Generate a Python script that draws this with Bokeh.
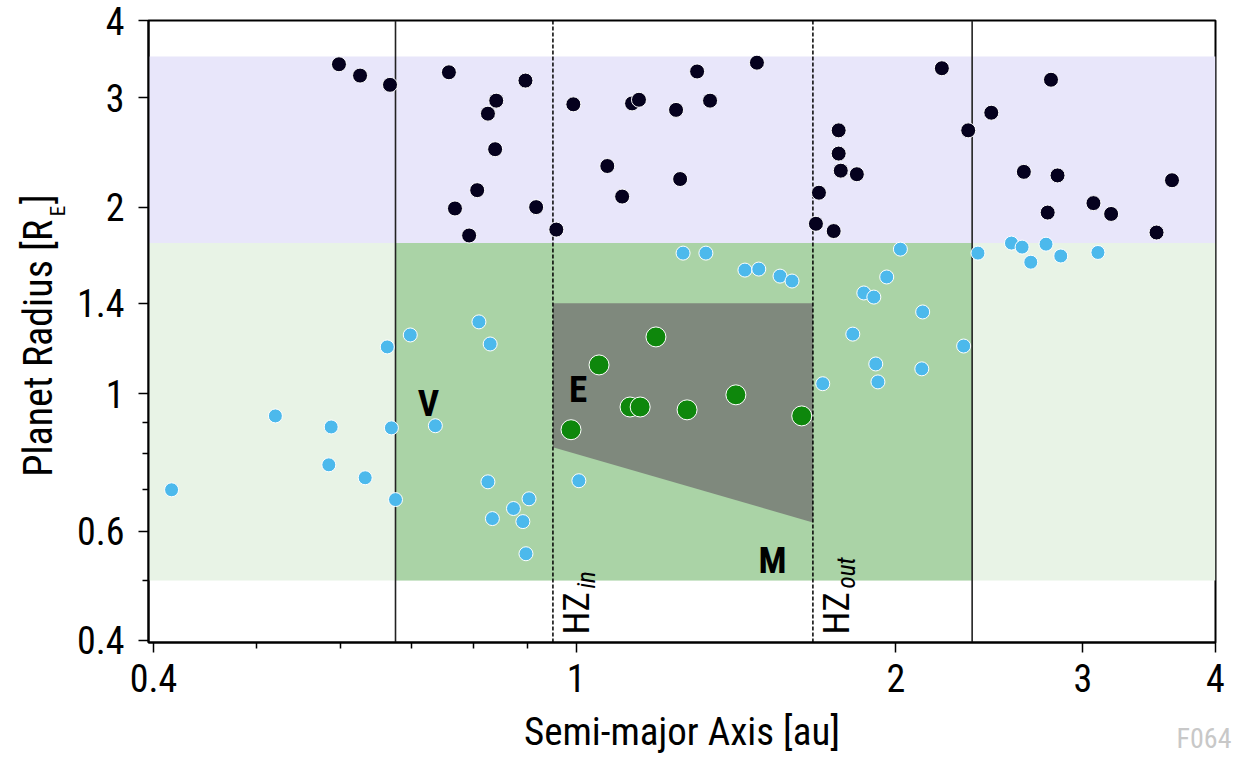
import numpy as np
from bokeh.plotting import figure
from bokeh.layouts import row
from bokeh.models import Range1d, FixedTicker, CustomJSTickFormatter, Label, Title
from bokeh.core.properties import value
from bokeh.embed import file_html
from bokeh.resources import INLINE

# ---------------- data ----------------
# sub-Neptunes (1.75 - 3.5 R_E)
dark_a = [0.598, 0.626, 0.668, 0.759, 0.896, 0.841, 0.826, 0.839, 0.807, 0.769,
          0.793, 0.917, 0.958, 0.994, 1.07, 1.105, 1.129, 1.146, 1.242, 1.253,
          1.30, 1.337, 1.48, 1.767, 1.767, 1.775, 1.838, 1.693, 1.682, 1.748,
          2.21, 2.34, 2.46, 2.80, 2.64, 2.84, 3.64, 3.07, 3.19, 2.78, 3.52]
dark_r = [3.40, 3.26, 3.15, 3.30, 3.20, 2.97, 2.83, 2.48, 2.13, 1.99,
          1.80, 2.00, 1.84, 2.93, 2.33, 2.08, 2.94, 2.98, 2.87, 2.22,
          3.31, 2.97, 3.42, 2.66, 2.44, 2.29, 2.26, 2.11, 1.88, 1.83,
          3.35, 2.66, 2.84, 3.21, 2.28, 2.25, 2.21, 2.03, 1.95, 1.96, 1.82]

# rocky planets outside the habitable zone
blue_a = [0.416, 0.521, 0.588, 0.585, 0.633, 0.670, 0.676, 0.664, 0.698, 0.737,
          0.810, 0.830, 0.826, 0.903, 0.873, 0.834, 0.891, 0.897, 1.006, 1.261,
          1.325, 1.442, 1.486, 1.556, 1.597, 2.02, 1.961, 1.866, 1.907, 2.12,
          1.822, 2.317, 1.915, 2.116, 1.924, 1.707, 2.39, 2.57, 2.63, 2.77,
          2.68, 2.86, 3.10]
blue_r = [0.700, 0.921, 0.884, 0.768, 0.732, 0.881, 0.675, 1.19, 1.244, 0.888,
          1.306, 1.203, 0.721, 0.677, 0.653, 0.629, 0.622, 0.552, 0.724, 1.686,
          1.686, 1.583, 1.589, 1.548, 1.52, 1.711, 1.543, 1.454, 1.432, 1.355,
          1.248, 1.194, 1.117, 1.097, 1.045, 1.038, 1.686, 1.75, 1.724, 1.743,
          1.63, 1.668, 1.69]

# exo-Earth candidates
green_a = [0.989, 1.051, 1.189, 1.124, 1.149, 1.272, 1.414, 1.631]
green_r = [0.875, 1.113, 1.235, 0.952, 0.952, 0.942, 0.996, 0.921]

# radius zones (full width)
zone_bottom = [1.75, 0.5]
zone_top = [3.5, 1.75]
zone_color = ["#e8e6fa", "#e8f3e6"]

# extended rocky zone
rocky_a = [0.676, 2.36]
rocky_r = [0.5, 1.75]

# habitable zone edges and exo-Earth box
hz_in, hz_out = 0.951, 1.671
outer_lines = [0.676, 2.36]
eec_top = 1.4
eec_low = [0.82, 0.62]   # lower radius limit at hz_in, hz_out

# solar-system planets
planet_name = ["V", "E", "M"]
planet_a = [0.723, 1.0, 1.524]
planet_r = [0.95, 1.0, 0.53]

x_ticks = [0.4, 1, 2, 3, 4]
x_minor = [0.5, 0.6, 0.7, 0.8, 0.9]
y_ticks = [0.4, 0.6, 1, 1.4, 2, 3, 4]
y_minor = [0.5, 0.7, 0.8, 0.9]

X0, X1 = 0.3957, 4.0
Y0, Y1 = 0.397, 4.0
FONT = "'Roboto Condensed', 'Liberation Sans Narrow', 'Liberation Sans', Arial, sans-serif"
H = 757
LW = 70        # width of the strip that carries the y-axis title
TOP, BOT = 20, 114   # frame borders (px)

# ---------------- y-axis title strip ----------------
# frame spans page rows TOP .. H-BOT, data y = H - page row
ty = figure(width=LW, height=H, x_range=Range1d(0, LW), y_range=Range1d(BOT, H - TOP),
            x_axis_location=None, y_axis_location=None, output_backend="svg",
            toolbar_location=None, min_border_left=0, min_border_right=0,
            min_border_top=TOP, min_border_bottom=BOT)
ty.grid.visible = False
ty.outline_line_color = None
ty.text(x=[37.5, 37.5], y=[H - 477, H - 204], text=["Planet Radius [R", "]"],
        angle=np.pi / 2, text_font=value(FONT), text_font_size="40px",
        text_align="left", text_baseline="middle", text_color="black")
ty.text(x=[57.5], y=[H - 216], text=["E"], angle=np.pi / 2, text_font=value(FONT),
        text_font_size="21px", text_align="left", text_baseline="middle",
        text_color="black")

# ---------------- main chart ----------------
p = figure(width=1234 - LW, height=H, x_axis_type="log", y_axis_type="log",
           x_range=Range1d(X0, X1), y_range=Range1d(Y0, Y1),
           output_backend="svg", toolbar_location=None,
           min_border_left=148 - LW, min_border_right=19, min_border_top=TOP,
           min_border_bottom=BOT)
p.grid.visible = False
p.outline_line_color = "black"
p.outline_line_width = 2

# zones
p.quad(left=[X0] * len(zone_bottom), right=[X1] * len(zone_bottom),
       bottom=zone_bottom, top=zone_top, fill_color=zone_color, line_color=None)
p.quad(left=[rocky_a[0]], right=[rocky_a[1]], bottom=[rocky_r[0]], top=[rocky_r[1]],
       fill_color="#aad3a6", line_color=None)
p.patch(x=[hz_in, hz_out, hz_out, hz_in], y=[eec_top, eec_top, eec_low[1], eec_low[0]],
        fill_color="#7f897d", line_color=None)

# boundary lines
p.segment(x0=outer_lines, x1=outer_lines, y0=[Y0] * 2, y1=[Y1] * 2,
          line_color="#222222", line_width=1.6)
p.segment(x0=[hz_in, hz_out], x1=[hz_in, hz_out], y0=[Y0] * 2, y1=[Y1] * 2,
          line_color="black", line_width=1.5, line_dash="4 2")

# points
p.scatter(dark_a, dark_r, size=15, fill_color="#05011e", line_color="white", line_width=1)
p.scatter(blue_a, blue_r, size=14, fill_color="#4cb9ec", line_color="white", line_width=1)
p.scatter(green_a, green_r, size=20, fill_color="#0e870c", line_color="white", line_width=1)

# axes
for ax, tk, mn in ((p.xaxis, x_ticks, x_minor), (p.yaxis, y_ticks, y_minor)):
    ax.ticker = FixedTicker(ticks=tk, minor_ticks=mn)
    ax.formatter = CustomJSTickFormatter(code="return tick.toString();")
    ax.axis_line_width = 2
    ax.axis_line_color = "black"
    ax.major_tick_line_width = 1.5
    ax.minor_tick_line_width = 1.5
    ax.major_tick_in = 0
    ax.major_tick_out = 10
    ax.minor_tick_in = 0
    ax.minor_tick_out = 6
    ax.major_label_text_font = FONT
    ax.major_label_text_font_size = "38px"
    ax.major_label_text_color = "black"
p.xaxis.major_label_standoff = 11
p.yaxis.major_label_standoff = 14
p.xaxis.axis_label = "Semi-major Axis [au]"
p.xaxis.axis_label_text_font = FONT
p.xaxis.axis_label_text_font_size = "39px"
p.xaxis.axis_label_text_font_style = "normal"
p.xaxis.axis_label_text_color = "black"
p.xaxis.axis_label_standoff = 14

# watermark below the axis title, right aligned
p.add_layout(Title(text="F064", align="right", offset=-16, standoff=-72,
                   vertical_align="top", text_font=FONT, text_font_size="28px",
                   text_font_style="normal", text_color="#c8c8c8"), "below")


def lab(text, x, y, xo, yo, size, angle=0.0, align="left", baseline="middle",
        style="normal", color="black"):
    p.add_layout(Label(x=x, y=y, x_offset=xo, y_offset=yo, text=text, angle=angle,
                       text_font=FONT, text_font_size=size, text_align=align,
                       text_baseline=baseline, text_font_style=style,
                       text_color=color))


for hz, sub in ((hz_in, "in"), (hz_out, "out")):
    lab("HZ", hz, Y0, 24, 8, "37px", angle=np.pi / 2)
    lab(sub, hz, Y0, 34, 54, "25px", angle=np.pi / 2, style="italic")

for name, a, r in zip(planet_name, planet_a, planet_r):
    lab(name, a, r, 2, 4, "37px", align="center", style="bold")

layout = row(ty, p, spacing=0)
open("out.html", "w").write(file_html(layout, INLINE))
